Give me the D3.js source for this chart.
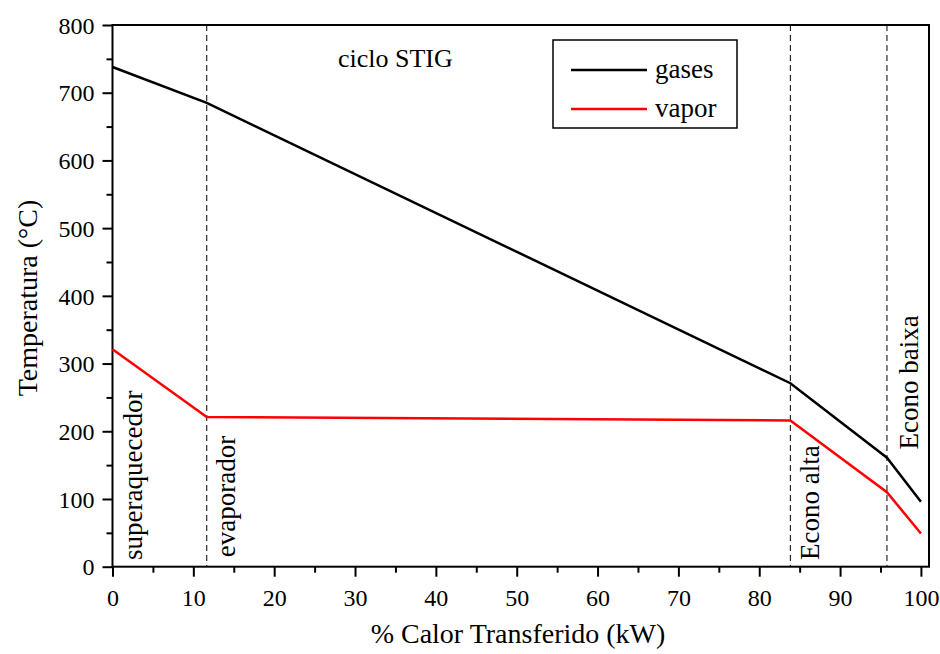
<!DOCTYPE html>
<html><head><meta charset="utf-8">
<script src="https://cdn.jsdelivr.net/npm/d3@7"></script>
<style>body{margin:0;background:#fff;} svg text{font-family:"Liberation Serif","Times New Roman","DejaVu Serif",serif !important;fill:#000;}</style>
</head><body>
<svg id="c" width="940" height="654"></svg>
<script>
const gasesX = [0, 11.66, 83.85, 95.8, 100];
const gasesY = [738, 685, 271, 161, 96];
const vaporX = [0, 11.66, 83.85, 95.8, 100];
const vaporY = [321, 221, 216, 110, 49];
const dividers = [11.66, 83.85, 95.8];
const xTicks = [0,10,20,30,40,50,60,70,80,90,100];
const yTicks = [0,100,200,300,400,500,600,700,800];
const sections = [
  {label:"superaquecedor", x:3.7, y:10},
  {label:"evaporador", x:15.15, y:14},
  {label:"Econo alta", x:87.35, y:10},
  {label:"Econo baixa", x:99.6, y:173}
];
const seriesNames = ["gases","vapor"];
const seriesColors = ["#000000","#ff0000"];

const svg = d3.select("#c");
const L=112.5, R=929, T=25, B=566.7;
const x = d3.scaleLinear().domain([0,101]).range([L,R]);
const y = d3.scaleLinear().domain([0,800]).range([B,T]);

svg.append("rect").attr("x",L).attr("y",T).attr("width",R-L).attr("height",B-T)
  .attr("fill","none").attr("stroke","#000").attr("stroke-width",2);

svg.selectAll("line.div").data(dividers).enter().append("line")
  .attr("x1",d=>x(d)).attr("x2",d=>x(d)).attr("y1",T).attr("y2",B)
  .attr("stroke","#000").attr("stroke-width",1).attr("stroke-dasharray","6,4");

const xAxis = d3.axisBottom(x).tickValues(xTicks).tickSize(10).tickPadding(4).tickFormat(d3.format("d"));
const gx = svg.append("g").attr("transform",`translate(0,${B})`).call(xAxis);
const xMinor = d3.axisBottom(x).tickValues(d3.range(5,100,10)).tickSize(6).tickFormat("");
const gxm = svg.append("g").attr("transform",`translate(0,${B})`).call(xMinor);
const yAxis = d3.axisLeft(y).tickValues(yTicks).tickSize(10).tickPadding(8).tickFormat(d3.format("d"));
const gy = svg.append("g").attr("transform",`translate(${L},0)`).call(yAxis);
const yMinor = d3.axisLeft(y).tickValues(d3.range(50,800,100)).tickSize(6).tickFormat("");
const gym = svg.append("g").attr("transform",`translate(${L},0)`).call(yMinor);
[gx,gxm,gy,gym].forEach(g=>{
  g.attr("font-family",null).attr("font-size",null);
  g.select(".domain").remove();
  g.selectAll("line").attr("stroke","#000").attr("stroke-width",2);
  g.selectAll("text").style("font-size","24px");
});
gx.selectAll("text").attr("dy","1.05em");
gy.selectAll("text").attr("dy","0.34em");

const line = d3.line().x(d=>x(d[0])).y(d=>y(d[1]));
const gasPts = gasesX.map((v,i)=>[v,gasesY[i]]);
const vapPts = vaporX.map((v,i)=>[v,vaporY[i]]);
svg.append("path").attr("d",line(gasPts)).attr("fill","none").attr("stroke",seriesColors[0]).attr("stroke-width",2.5);
svg.append("path").attr("d",line(vapPts)).attr("fill","none").attr("stroke",seriesColors[1]).attr("stroke-width",2.5);

sections.forEach(s=>{
  svg.append("text").attr("transform",`translate(${x(s.x)},${y(s.y)}) rotate(-90)`)
    .style("font-size","27px").attr("text-anchor","start").text(s.label);
});

svg.append("text").attr("x",338).attr("y",66.5).style("font-size","26px").text("ciclo STIG");

svg.append("rect").attr("x",553).attr("y",40).attr("width",184).attr("height",88)
  .attr("fill","#fff").attr("stroke","#000").attr("stroke-width",1.5);
seriesNames.forEach((n,i)=>{
  const ly = 70 + i*39;
  svg.append("line").attr("x1",571).attr("x2",647).attr("y1",ly).attr("y2",ly)
    .attr("stroke",seriesColors[i]).attr("stroke-width",2.5);
  svg.append("text").attr("x",655).attr("y",ly+8).style("font-size","27px").text(n);
});

svg.append("text").attr("x",518).attr("y",643).attr("text-anchor","middle").style("font-size","28px")
  .text("% Calor Transferido (kW)");
svg.append("text").attr("transform","translate(37,298) rotate(-90)").attr("text-anchor","middle")
  .style("font-size","28px").text("Temperatura (°C)");
</script>
</body></html>
